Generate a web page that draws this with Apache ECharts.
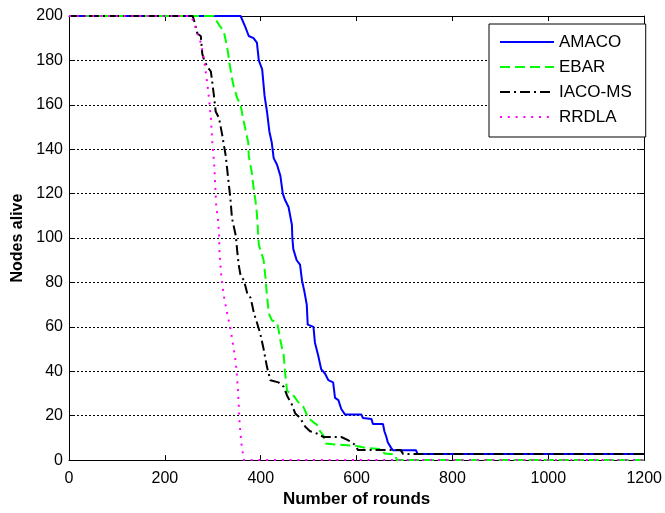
<!DOCTYPE html>
<html>
<head>
<meta charset="utf-8">
<script src="https://cdn.jsdelivr.net/npm/echarts@6/dist/echarts.min.js"></script>
<style>
html,body{margin:0;padding:0;background:#fff;}
#c{width:665px;height:513px;}
</style>
</head>
<body>
<div id="c"></div>
<script>
// [round, nodes alive]
var amaco = [[0,200],[358,200],[368,195],[375,191],[385,190],[392,188],[396,180],[403,176],[408,164],[413,157],[418,148],[423,143],[427,136],[434,133],[441,128],[446,120],[451,117],[458,114],[465,106],[466,100],[468,95],[475,90],[482,88],[486,81],[491,76],[496,70],[498,61],[510,60],[513,53],[520,47],[526,41],[534,39],[541,36],[551,35],[555,28],[562,27],[568,23],[576,20.5],[610,20.5],[613,19],[631,18.5],[634,16.3],[655,16.3],[658,13],[662,10.5],[665,8],[672,5.5],[676,4.4],[724,4.4],[727,2.8],[1200,2.8]];
var ebar = [[0,200],[302,200],[313,196],[323,193],[330,186],[334,180],[339,173],[344,168],[351,163],[358,160],[363,154],[368,149],[374,143],[375,137],[381,130],[386,121],[389,117],[392,111],[394,104],[396,97],[406,90],[410,82],[413,74],[417,66],[423,63],[434,62],[437,59],[441,54],[448,47],[451,39],[455,31],[465,30],[472,28],[482,25],[489,24],[493,22],[499,19],[510,17],[517,16],[524,13],[531,11],[534,7.5],[555,7],[596,6.5],[620,5.5],[651,5],[658,3],[680,2.5],[684,0],[1200,0]];
var iacoms = [[0,200],[258,200],[261,198],[268,192],[275,191],[278,183],[282,180],[289,177],[296,175],[299,170],[303,163],[306,157],[313,154],[320,146],[323,142],[327,137],[330,131],[334,123],[337,117],[340,109],[348,101],[351,94],[354,88],[358,83],[365,81],[372,75],[379,73],[386,66],[392,62],[399,57],[406,50],[413,42],[420,36],[437,35],[448,33],[455,29],[465,25],[472,21],[482,19],[493,15],[503,13],[517,12],[531,10.4],[568,10.4],[582,9],[596,7],[603,4.5],[692,4.5],[697,2.8],[1200,2.8]];
var rrdla = [[0,200],[254,200],[261,197],[268,192],[275,188],[282,180],[285,175],[289,169],[292,163],[296,154],[299,143],[303,133],[305,124],[307,115],[311,108],[313,102],[314,93],[318,82],[323,74],[330,66],[337,59],[343,51],[348,44],[351,36],[354,26],[356,16],[360,7],[365,0],[1200,0]];
var seriesNames = ['AMACO','EBAR','IACO-MS','RRDLA'];
var xMin = 0, xMax = 1200, xStep = 200;
var yMin = 0, yMax = 200, yStep = 20;

var FONT = '"Liberation Sans", Arial, sans-serif';
var chart = echarts.init(document.getElementById('c'), null, {renderer:'canvas'});

function baseX(pos, show){
  return {
    type:'value', position:pos, min:xMin, max:xMax, interval:xStep,
    axisLine:{show:true, onZero:false, lineStyle:{color:'#000', width:1}},
    axisTick:{show:true, inside:true, length:5, lineStyle:{color:'#000'}},
    axisLabel:{show:show, color:'#000', fontSize:16, fontFamily:FONT, margin:10,
      formatter:function(v){return String(v);}},
    splitLine:{show:false}
  };
}
function baseY(pos, show){
  return {
    type:'value', position:pos, min:yMin, max:yMax, interval:yStep,
    axisLine:{show:true, onZero:false, lineStyle:{color:'#000', width:1}},
    axisTick:{show:true, inside:true, length:5, lineStyle:{color:'#000'}},
    axisLabel:{show:show, color:'#000', fontSize:16, fontFamily:FONT, margin:6,
      formatter:function(v){return String(v);}},
    splitLine:{show:show, lineStyle:{color:'#000', width:1, type:[2,2]}}
  };
}
var xb = baseX('bottom', true);
xb.name = 'Number of rounds'; xb.nameLocation='middle'; xb.nameGap=29;
xb.nameTextStyle = {color:'#000', fontSize:17, fontWeight:'bold', fontFamily:FONT};
var yl = baseY('left', true);
yl.name = 'Nodes alive'; yl.nameLocation='middle'; yl.nameGap=42;
yl.nameTextStyle = {color:'#000', fontSize:16, fontWeight:'bold', fontFamily:FONT};

var styles = [
  {color:'#0000ff', type:'solid'},
  {color:'#00ff00', type:[10,5]},
  {color:'#000000', type:[10,4,2,4]},
  {color:'#ff00ff', type:[2,5.8]}
];
var datas = [amaco, ebar, iacoms, rrdla];
var series = datas.map(function(d,i){
  return {
    name:seriesNames[i], type:'line', data:d, xAxisIndex:0, yAxisIndex:0,
    symbol:'none', showSymbol:false, smooth:false,
    lineStyle:{color:styles[i].color, width:2, type:styles[i].type},
    itemStyle:{color:styles[i].color},
    z:2+i
  };
});

chart.setOption({
  animation:false,
  backgroundColor:'#fff',
  grid:{left:69, right:17, top:16, bottom:49, containLabel:false},
  xAxis:[xb, baseX('top', false)],
  yAxis:[yl, baseY('right', false)],
  legend:{
    show:true,
    orient:'vertical', left:489, top:24,
    data:seriesNames,
    itemWidth:54, itemHeight:14, itemGap:5,
    padding:[8,14,10,10],
    backgroundColor:'#fff', borderColor:'#000', borderWidth:1,
    textStyle:{color:'#000', fontSize:17, fontFamily:FONT, lineHeight:20},
    itemStyle:{opacity:0, color:'rgba(0,0,0,0)', borderWidth:0},
    lineStyle:{width:2},
    selectedMode:false
  },
  series:series
});
</script>
</body>
</html>
